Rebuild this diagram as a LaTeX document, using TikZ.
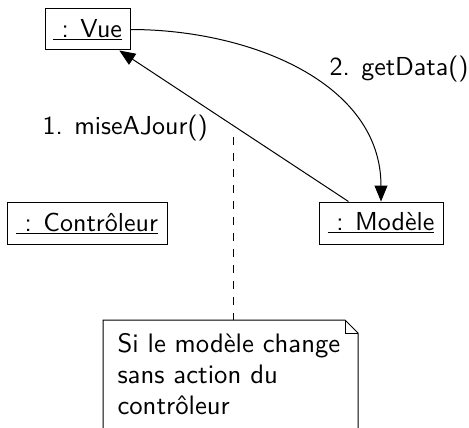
\documentclass[tikz,border=0pt]{standalone}
\usepackage{fontspec}
\setsansfont{lmsans10-regular.otf}
\usetikzlibrary{arrows.meta}
\begin{document}
\begin{tikzpicture}[x=1pt,y=-1pt,
  font=\sffamily\fontsize{26}{29}\selectfont,
  line width=1pt,
  obj/.style={draw, inner sep=0pt, anchor=center},
  msg/.style={-{Triangle[length=16pt,width=13pt]}},
  lbl/.style={anchor=base west, inner sep=0pt},
  notetxt/.style={lbl, font=\sffamily\fontsize{26.7}{31}\selectfont},
  notelink/.style={dash pattern=on 8pt off 8pt}]
\useasboundingbox (0,0) rectangle (469,428);
\clip (0,0) rectangle (469,428);
\node[obj, minimum width=85pt, minimum height=41pt] (vue) at (87.5,29.5) {\underline{\ : Vue}};
\node[obj, minimum width=160pt, minimum height=42pt] (ctrl) at (87,223) {\underline{\ : Contrôleur}};
\node[obj, minimum width=124pt, minimum height=42pt] (modele) at (381,223) {\underline{\ : Modèle}};
\draw[msg] (modele) -- (vue);
\draw[msg] (vue.east) to[out=0,in=90] (modele.north);
\node[lbl] (l1) at (42,134) {1. miseAJour()};
\node[lbl] (l2) at (329,76) {2. getData()};
% note
\node[inner sep=0pt, minimum width=254pt, minimum height=120pt, anchor=north west] (note) at (103,320) {};
\draw (note.north west) -- ([xshift=-13pt]note.north east) -- ([yshift=-13pt]note.north east) -- (note.south east) -- (note.south west) -- cycle;
\draw ([xshift=-13pt]note.north east) -- ([xshift=-13pt,yshift=-13pt]note.north east) -- ([yshift=-13pt]note.north east);
\node[notetxt] (nt1) at (117,352) {Si le modèle change};
\node[notetxt] (nt2) at (117,383) {sans action du};
\node[notetxt] (nt3) at (117,414) {contrôleur};
\coordinate (dtop) at (233,137);
\draw[notelink] (dtop) -- (dtop |- note.north);
\end{tikzpicture}
\end{document}
